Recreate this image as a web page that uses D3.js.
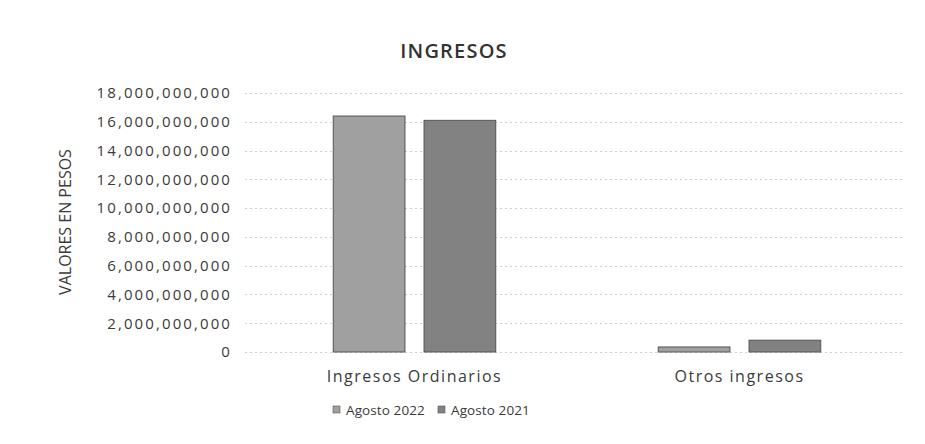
<!DOCTYPE html>
<html>
<head>
<meta charset="utf-8">
<script src="https://cdn.jsdelivr.net/npm/d3@7"></script>
<style>
  body { margin: 0; background: #fff; }
</style>
</head>
<body>
<div id="chart"></div>
<script>
// Data
//////////////////////////////////////////////////////////////////////
var categories = ["Ingresos Ordinarios", "Otros ingresos"];
var series = ["Agosto 2022", "Agosto 2021"];
var agosto2022 = [16400000000, 350000000];
var agosto2021 = [16100000000, 820000000];
var yTicks = [0, 2e9, 4e9, 6e9, 8e9, 10e9, 12e9, 14e9, 16e9, 18e9];

// Variables
//////////////////////////////////////////////////////////////////////
var width = 925, height = 444;
var colors = ["#a0a0a0", "#828282"];
var textColor = "#3a3a3a";
var font = "'Open Sans', sans-serif";

var rows = categories.map((c, i) => ({ cat: c, values: [agosto2022[i], agosto2021[i]] }));

var svg = d3.select("#chart").append("svg")
  .attr("width", width)
  .attr("height", height);

var y = d3.scaleLinear().domain([0, 18e9]).range([352, 93]);
var x0 = d3.scaleBand().domain(categories).range([252, 902])
  .paddingInner(0.5).paddingOuter(0.25);
var x1 = d3.scaleBand().domain(series).range([0, x0.bandwidth()]).paddingInner(0.21);

// Title
svg.append("text")
  .attr("x", 454).attr("y", 58)
  .attr("text-anchor", "middle")
  .attr("font-family", font)
  .attr("font-weight", 600)
  .attr("font-size", 20)
  .attr("letter-spacing", 1.2)
  .attr("fill", "#333")
  .text("INGRESOS");

// Gridlines
svg.append("g")
  .selectAll("line")
  .data(yTicks)
  .join("line")
  .attr("x1", 245).attr("x2", 905)
  .attr("y1", d => Math.round(y(d)) + 0.5)
  .attr("y2", d => Math.round(y(d)) + 0.5)
  .attr("stroke", "#cfcfcf")
  .attr("stroke-dasharray", "2,3")
  .attr("stroke-width", 1);

// Y axis
var yAxis = svg.append("g")
  .attr("transform", "translate(245,0)")
  .call(d3.axisLeft(y).tickValues(yTicks).tickFormat(d3.format(",")).tickSize(0).tickPadding(13));
yAxis.select(".domain").remove();
yAxis.selectAll("text")
  .attr("font-family", font)
  .attr("font-size", 15)
  .attr("letter-spacing", 2.1)
  .attr("fill", textColor);

// Y axis title
svg.append("text")
  .attr("transform", "translate(71,222) rotate(-90)")
  .attr("text-anchor", "middle")
  .attr("font-family", "'Liberation Sans Narrow', 'Open Sans', sans-serif")
  .attr("font-size", 16)
  .attr("fill", textColor)
  .text("VALORES EN PESOS");

// Bars
svg.append("g")
  .selectAll("g")
  .data(rows)
  .join("g")
  .attr("transform", d => `translate(${x0(d.cat)},0)`)
  .selectAll("rect")
  .data(d => d.values.map((v, i) => ({ key: series[i], value: v, i: i })))
  .join("rect")
  .attr("x", d => x1(d.key))
  .attr("width", x1.bandwidth())
  .attr("y", d => y(d.value))
  .attr("height", d => y(0) - y(d.value))
  .attr("fill", d => colors[d.i])
  .attr("stroke", "#555")
  .attr("stroke-width", 1);

// X axis labels
var xAxis = svg.append("g")
  .attr("transform", "translate(0,352)")
  .call(d3.axisBottom(x0).tickSize(0).tickPadding(19));
xAxis.select(".domain").remove();
xAxis.selectAll("text")
  .attr("font-family", font)
  .attr("font-size", 16)
  .attr("letter-spacing", 1.5)
  .attr("fill", textColor);

// Legend
var legendX = [333, 438];
var legend = svg.append("g")
  .selectAll("g")
  .data(series)
  .join("g")
  .attr("transform", (d, i) => `translate(${legendX[i]},410)`);
legend.append("rect")
  .attr("x", 0).attr("y", -4)
  .attr("width", 7).attr("height", 7)
  .attr("fill", (d, i) => colors[i])
  .attr("stroke", "#555")
  .attr("stroke-width", 0.6);
legend.append("text")
  .attr("x", 13).attr("y", 0)
  .attr("dy", "0.35em")
  .attr("font-family", font)
  .attr("font-size", 13.5)
  .attr("letter-spacing", 0.1)
  .attr("fill", textColor)
  .text(d => d);
</script>
</body>
</html>
